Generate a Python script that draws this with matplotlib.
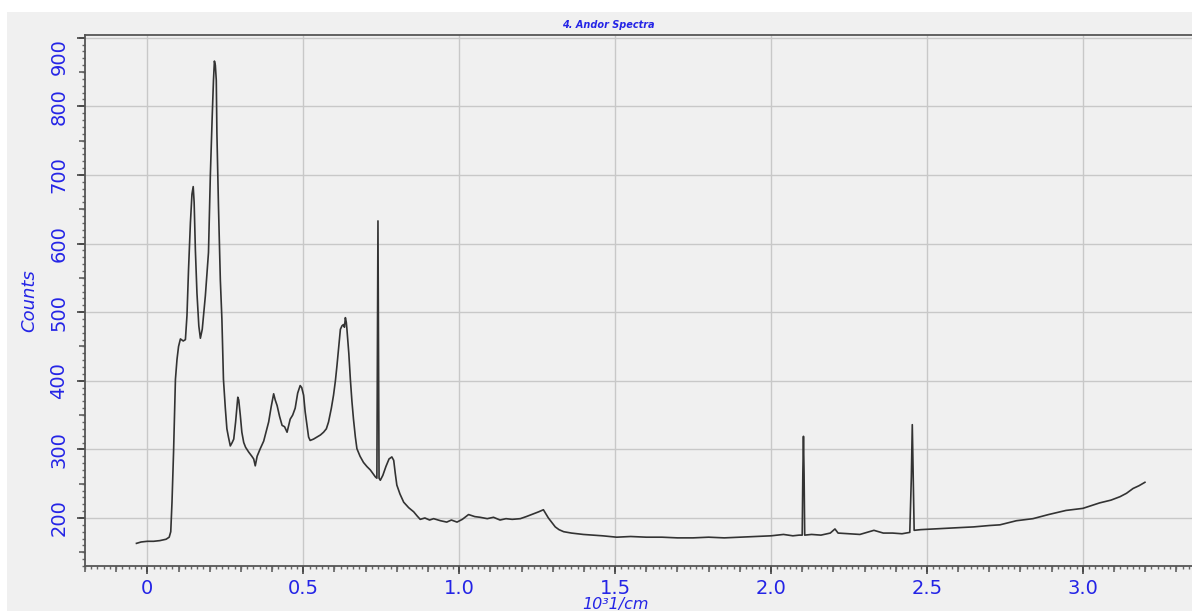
import matplotlib
matplotlib.use('Agg')
import matplotlib.pyplot as plt
from matplotlib.patches import Rectangle
from matplotlib.ticker import MultipleLocator, NullFormatter, NullLocator
import numpy as np

# Spectrum (10^3 1/cm, counts)
wn = [-0.035, -0.02, 0.0, 0.02, 0.04, 0.06, 0.07, 0.075, 0.079, 0.084, 0.09, 0.095, 0.1, 0.106, 0.115,
      0.122, 0.127, 0.132, 0.138, 0.143, 0.147, 0.150, 0.154, 0.159, 0.165, 0.17, 0.176, 0.186, 0.196,
      0.202, 0.208, 0.212, 0.215, 0.218, 0.221, 0.223, 0.228, 0.234, 0.239, 0.244, 0.25, 0.255, 0.26,
      0.266, 0.272, 0.277, 0.283, 0.287, 0.290, 0.293, 0.298, 0.303, 0.309, 0.315, 0.325, 0.335, 0.341,
      0.346, 0.352, 0.362, 0.373, 0.389, 0.397, 0.405, 0.410, 0.416, 0.424, 0.432, 0.440, 0.448, 0.458,
      0.466, 0.474, 0.482, 0.490, 0.495, 0.501, 0.506, 0.512, 0.517, 0.522, 0.533, 0.544, 0.555, 0.565,
      0.574, 0.581, 0.590, 0.597, 0.603, 0.608, 0.614, 0.619, 0.624, 0.629, 0.632, 0.635, 0.638, 0.640,
      0.646, 0.651, 0.656, 0.661, 0.667, 0.672, 0.682, 0.693, 0.704, 0.715, 0.723, 0.731, 0.736, 0.738,
      0.7395, 0.741, 0.743, 0.747, 0.755, 0.765, 0.775, 0.784, 0.790, 0.795, 0.8, 0.81, 0.822, 0.838,
      0.854, 0.865, 0.875, 0.89, 0.905, 0.918, 0.94, 0.96, 0.975, 0.993, 1.01, 1.03, 1.05, 1.067, 1.09,
      1.11, 1.131, 1.15, 1.17, 1.196, 1.215, 1.238, 1.255, 1.27, 1.278, 1.286, 1.298, 1.308, 1.32, 1.335,
      1.36, 1.38, 1.398, 1.43, 1.46, 1.505, 1.55, 1.6, 1.65, 1.7, 1.75, 1.8, 1.85, 1.9, 1.95, 2.0, 2.04,
      2.07, 2.09, 2.1, 2.102, 2.104, 2.106, 2.108, 2.13, 2.16, 2.19, 2.205, 2.215, 2.25, 2.285, 2.33,
      2.36, 2.39, 2.42, 2.445, 2.450, 2.453, 2.456, 2.459, 2.48, 2.52, 2.56, 2.606, 2.65, 2.7, 2.734,
      2.787, 2.84, 2.89, 2.946, 3.0, 3.054, 3.09, 3.119, 3.14, 3.161, 3.18, 3.199]
counts = [163, 165, 166, 166, 167, 169, 172, 180, 223, 296, 402, 431, 450, 461, 458,
          460, 495, 562, 630, 672, 683, 660, 590, 528, 480, 462, 475, 524, 587,
          700, 786, 838, 866, 860, 838, 761, 655, 547, 490, 402, 360, 330, 318,
          305, 310, 315, 340, 360, 376, 372, 350, 325, 310, 303, 296, 290, 286,
          276, 290, 301, 312, 340, 362, 381, 372, 364, 348, 335, 333, 325, 344,
          350, 360, 382, 393, 390, 379, 355, 335, 318, 313, 315, 318, 321, 325,
          330, 340, 360, 379, 400, 422, 450, 475, 480, 482, 478, 492, 485, 475,
          440, 402, 370, 344, 318, 301, 290, 281, 275, 270, 265, 260, 258, 456,
          633, 456, 258, 255, 262, 275, 286, 289, 284, 265, 248, 235, 223, 215,
          209, 203, 198, 200, 197, 199, 196, 194, 197, 194, 198, 205, 202, 201, 199,
          201, 197, 199, 198, 199, 202, 206, 209, 212, 206, 200, 193, 187, 183, 180,
          178, 177, 176, 175, 174, 172, 173, 172, 172, 171, 171, 172, 171, 172, 173, 174, 176,
          174, 175, 175, 264, 319, 264, 175, 176, 175, 178, 184, 178, 177, 176, 182,
          178, 178, 177, 179, 260, 336, 260, 182, 183, 184, 185, 186, 187, 189, 190,
          196, 199, 205, 211, 214, 222, 226, 231, 236, 243, 247, 252]

xticks = [0, 0.5, 1.0, 1.5, 2.0, 2.5, 3.0]
xticklabels = ['0', '0.5', '1.0', '1.5', '2.0', '2.5', '3.0']
yticks = [200, 300, 400, 500, 600, 700, 800, 900]

blue = '#2424e6'
bg = '#f0f0f0'

fig = plt.figure(figsize=(11.92, 6.11), dpi=100, facecolor='white')
fig.patches.append(Rectangle((7 / 1192, 0), 1, 1 - 12 / 611, transform=fig.transFigure,
                             facecolor=bg, edgecolor='none', zorder=-10))

ax = fig.add_axes([85 / 1192, 1 - 566 / 611, 1 - 85 / 1192, (566 - 35) / 611])
ax.set_facecolor(bg)

ax.plot(wn, counts, color='#333333', lw=1.2)

ax.set_xlim(-0.2, 3.35)
ax.set_ylim(130, 904)

ax.set_xticks(xticks)
ax.set_xticklabels(xticklabels)
ax.set_yticks(yticks)
ax.set_yticklabels([str(v) for v in yticks], rotation=90, va='center')
# top label sits inside the frame, as in the original
ax.get_yticklabels()[-1].set_va('top')
ax.xaxis.set_minor_locator(MultipleLocator(0.02))
ax.yaxis.set_minor_locator(MultipleLocator(10))

ax.tick_params(axis='both', which='major', direction='out', length=6, width=1.2,
               color='#444444', labelcolor=blue, labelsize=14)
ax.tick_params(axis='both', which='minor', direction='out', length=2.2, width=1,
               color='#666666')
ax.tick_params(axis='x', pad=3)
ax.tick_params(axis='y', pad=6)

# middle-size ticks (every 0.1 and every 50)
secx = ax.secondary_xaxis('bottom')
secx.xaxis.set_major_locator(MultipleLocator(0.1))
secx.xaxis.set_major_formatter(NullFormatter())
secx.xaxis.set_minor_locator(NullLocator())
secx.tick_params(length=4, width=1.1, color='#555555')
secx.spines['bottom'].set_visible(False)

secy = ax.secondary_yaxis('left')
secy.yaxis.set_major_locator(MultipleLocator(50))
secy.yaxis.set_major_formatter(NullFormatter())
secy.yaxis.set_minor_locator(NullLocator())
secy.tick_params(length=4, width=1.1, color='#555555')
secy.spines['left'].set_visible(False)

ax.grid(True, which='major', color='#c8c8c8', lw=1)
ax.set_axisbelow(True)

for s in ['left', 'bottom', 'top']:
    ax.spines[s].set_color('#555555')
    ax.spines[s].set_linewidth(1.3)
ax.spines['right'].set_visible(False)

ax.set_ylabel('Counts', color=blue, fontsize=13, style='italic', labelpad=8)
fig.text(615 / 1192, 1 - 604 / 611, '10³1/cm', color=blue, fontsize=11.5,
         style='italic', ha='center', va='center')
fig.text(608 / 1192, 1 - 25 / 611, '4. Andor Spectra', color=blue, fontsize=7,
         style='italic', weight='bold', ha='center', va='center')

fig.savefig('out.png', dpi=100, facecolor=fig.get_facecolor())
